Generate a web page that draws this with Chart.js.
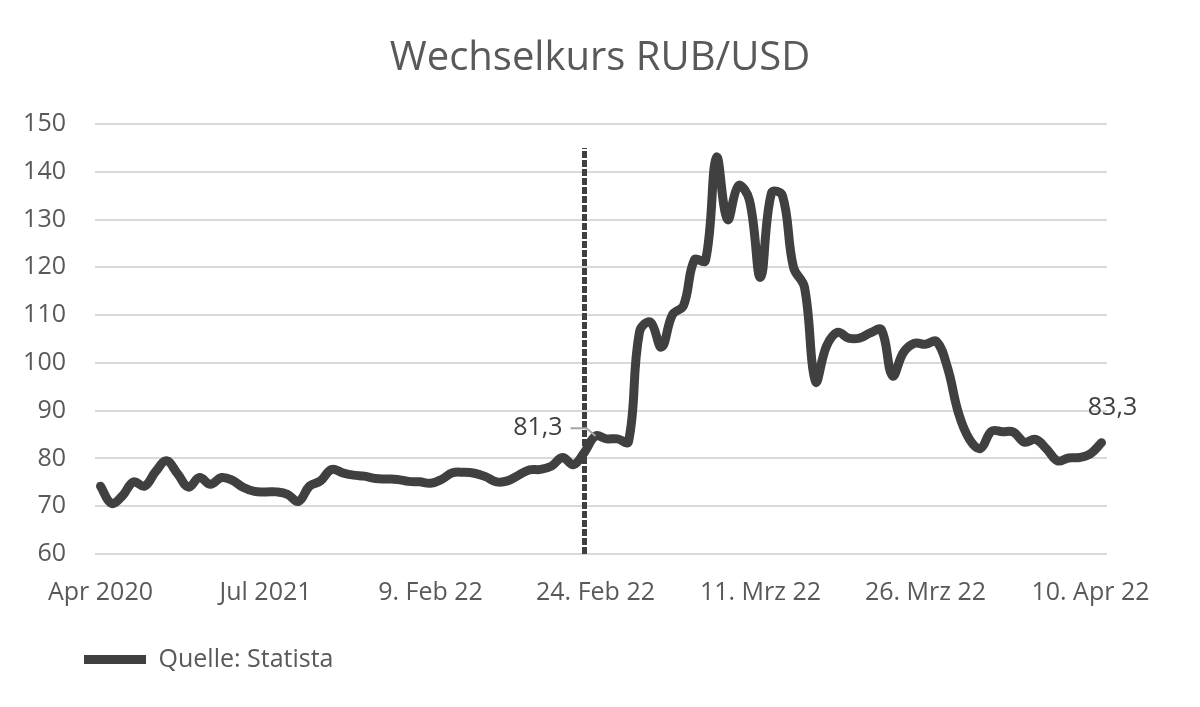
<!DOCTYPE html>
<html>
<head>
<meta charset="utf-8">
<script src="https://cdn.jsdelivr.net/npm/chart.js@4"></script>
<style>
  html, body { margin: 0; padding: 0; background: #fff; }
  #wrap { width: 1200px; height: 707px; }
</style>
</head>
<body>
<div id="wrap"><canvas id="graphic" width="1200" height="707"></canvas></div>
<script>
// categories: monthly up to Jan 2022, then daily
const months = ["Apr 2020", "Mai 2020", "Jun 2020", "Jul 2020", "Aug 2020", "Sep 2020", "Okt 2020", "Nov 2020", "Dez 2020",
  "Jan 2021", "Feb 2021", "Mrz 2021", "Apr 2021", "Mai 2021", "Jun 2021", "Jul 2021", "Aug 2021", "Sep 2021", "Okt 2021",
  "Nov 2021", "Dez 2021", "Jan 2022"];
const febDays = ["1. Feb 22", "2. Feb 22", "3. Feb 22", "4. Feb 22", "5. Feb 22", "6. Feb 22", "7. Feb 22", "8. Feb 22",
  "9. Feb 22", "10. Feb 22", "11. Feb 22", "12. Feb 22", "13. Feb 22", "14. Feb 22", "15. Feb 22", "16. Feb 22",
  "17. Feb 22", "18. Feb 22", "19. Feb 22", "20. Feb 22", "21. Feb 22", "22. Feb 22", "23. Feb 22", "24. Feb 22",
  "25. Feb 22", "26. Feb 22", "27. Feb 22", "28. Feb 22"];
const marDays = ["1. Mrz 22", "2. Mrz 22", "3. Mrz 22", "4. Mrz 22", "5. Mrz 22", "6. Mrz 22", "7. Mrz 22", "8. Mrz 22",
  "9. Mrz 22", "10. Mrz 22", "11. Mrz 22", "12. Mrz 22", "13. Mrz 22", "14. Mrz 22", "15. Mrz 22", "16. Mrz 22",
  "17. Mrz 22", "18. Mrz 22", "19. Mrz 22", "20. Mrz 22", "21. Mrz 22", "22. Mrz 22", "23. Mrz 22", "24. Mrz 22",
  "25. Mrz 22", "26. Mrz 22", "27. Mrz 22", "28. Mrz 22", "29. Mrz 22", "30. Mrz 22", "31. Mrz 22"];
const aprDays = ["1. Apr 22", "2. Apr 22", "3. Apr 22", "4. Apr 22", "5. Apr 22", "6. Apr 22", "7. Apr 22", "8. Apr 22",
  "9. Apr 22", "10. Apr 22", "11. Apr 22"];

const tickLabels = ["Apr 2020", "Jul 2021", "9. Feb 22", "24. Feb 22", "11. Mrz 22", "26. Mrz 22", "10. Apr 22"];

// RUB per USD
const monthlyRates = [74.2, 70.6, 72.2, 75.1, 74.2, 77.2, 79.5, 76.8, 74.0, 76.0, 74.6, 76.0, 75.4, 73.9, 73.1, 73.0,
  73.0, 72.5, 71.0, 74.2, 75.3, 77.7];
const febRates = [77.0, 76.5, 76.3, 75.8, 75.7, 75.6, 75.2, 75.1, 74.8, 75.6, 77.0, 77.1, 76.9, 76.2, 75.1, 75.3, 76.5,
  77.6, 77.7, 78.4, 80.2, 78.7, 81.3, 84.7, 84.1, 84.1, 83.5, 106.5];
const marRates = [108.5, 103.3, 110.1, 112.0, 121.6, 121.4, 143.0, 130.0, 137.1, 134.0, 117.9, 135.6, 135.0, 120.0,
  115.8, 96.1, 103.5, 106.4, 105.2, 105.2, 106.3, 106.9, 97.3, 102.2, 104.1, 103.9, 104.5, 99.0, 89.5, 84.0, 82.1];
const aprRates = [85.7, 85.6, 85.5, 83.4, 84.0, 82.0, 79.5, 80.1, 80.2, 81.0, 83.3];

const labels = [...months, ...febDays, ...marDays, ...aprDays];
const rates = [...monthlyRates, ...febRates, ...marRates, ...aprRates];

// dashed marker and labelled points
const markerLabel = "23. Feb 22";
const markerTop = 145;
const labelledPoints = ["23. Feb 22", "11. Apr 22"];

const grey = "#595959";
const lineColor = "#404040";
const font = "'Open Sans', sans-serif";

const fmt = (v) => v.toFixed(1).replace(".", ",");

const overlay = {
  id: "overlay",
  afterLayout(chart) {
    // title centred on the whole canvas, legend indented under the y labels
    chart.titleBlock.left = 0;
    chart.titleBlock.right = chart.width;
    chart.titleBlock.width = chart.width;
    chart.legend.left = 74;
  },
  afterDatasetsDraw(chart) {
    const { ctx, scales: { x, y } } = chart;
    ctx.save();

    // dashed vertical line
    const mx = x.getPixelForValue(labels.indexOf(markerLabel));
    ctx.strokeStyle = lineColor;
    ctx.lineWidth = 5;
    ctx.setLineDash([7, 2]);
    ctx.beginPath();
    ctx.moveTo(mx, y.getPixelForValue(60));
    ctx.lineTo(mx, y.getPixelForValue(markerTop));
    ctx.stroke();
    ctx.setLineDash([]);

    ctx.font = "25px " + font;
    ctx.fillStyle = lineColor;
    ctx.textBaseline = "middle";

    // label left of the marker with leader line
    const i1 = labels.indexOf(labelledPoints[0]);
    const px1 = x.getPixelForValue(i1);
    const py1 = y.getPixelForValue(rates[i1]);
    const ly = py1 - 24;
    ctx.textAlign = "right";
    ctx.fillText(fmt(rates[i1]), px1 - 22, ly);
    ctx.strokeStyle = "#a6a6a6";
    ctx.lineWidth = 2;
    ctx.beginPath();
    ctx.moveTo(px1 - 14, ly);
    ctx.lineTo(px1 + 2, ly);
    ctx.lineTo(x.getPixelForValue(i1 + 1), y.getPixelForValue(rates[i1 + 1]));
    ctx.stroke();

    // label above the last point
    const i2 = labels.indexOf(labelledPoints[1]);
    ctx.textAlign = "center";
    ctx.fillText(fmt(rates[i2]), x.getPixelForValue(i2) + 11, y.getPixelForValue(rates[i2]) - 35);

    ctx.restore();
  },
};

new Chart(document.getElementById("graphic"), {
  type: "line",
  data: {
    labels: labels,
    datasets: [
      {
        label: "Quelle: Statista",
        data: rates,
        borderColor: lineColor,
        backgroundColor: lineColor,
        borderWidth: 9,
        borderCapStyle: "round",
        borderJoinStyle: "round",
        pointRadius: 0,
        tension: 0.4,
      },
    ],
  },
  options: {
    responsive: false,
    animation: false,
    layout: { padding: { left: 10, right: 93, top: 0, bottom: 25 } },
    plugins: {
      title: {
        display: true,
        text: "Wechselkurs RUB/USD",
        color: grey,
        font: { family: font, size: 40, weight: "normal" },
        padding: { top: 35, bottom: 41 },
      },
      legend: {
        position: "bottom",
        align: "start",
        labels: {
          usePointStyle: true,
          pointStyle: "line",
          pointStyleWidth: 62,
          color: grey,
          font: { family: font, size: 25 },
        },
      },
      tooltip: { enabled: false },
    },
    scales: {
      x: {
        offset: true,
        grid: { display: false, drawTicks: false },
        border: { display: false },
        afterFit: (s) => { s.height = 83; },
        ticks: {
          autoSkip: false,
          maxRotation: 0,
          padding: 24,
          color: grey,
          font: { family: font, size: 25 },
          callback: function (v) {
            const lab = this.getLabelForValue(v);
            return tickLabels.includes(lab) ? lab : "";
          },
        },
      },
      y: {
        min: 60,
        max: 150,
        grid: { color: "#d9d9d9", lineWidth: 2, drawTicks: false },
        border: { display: false },
        afterFit: (s) => { s.width = 85; },
        ticks: {
          stepSize: 10,
          padding: 29,
          color: grey,
          font: { family: font, size: 25 },
        },
      },
    },
  },
  plugins: [overlay],
});
</script>
</body>
</html>
